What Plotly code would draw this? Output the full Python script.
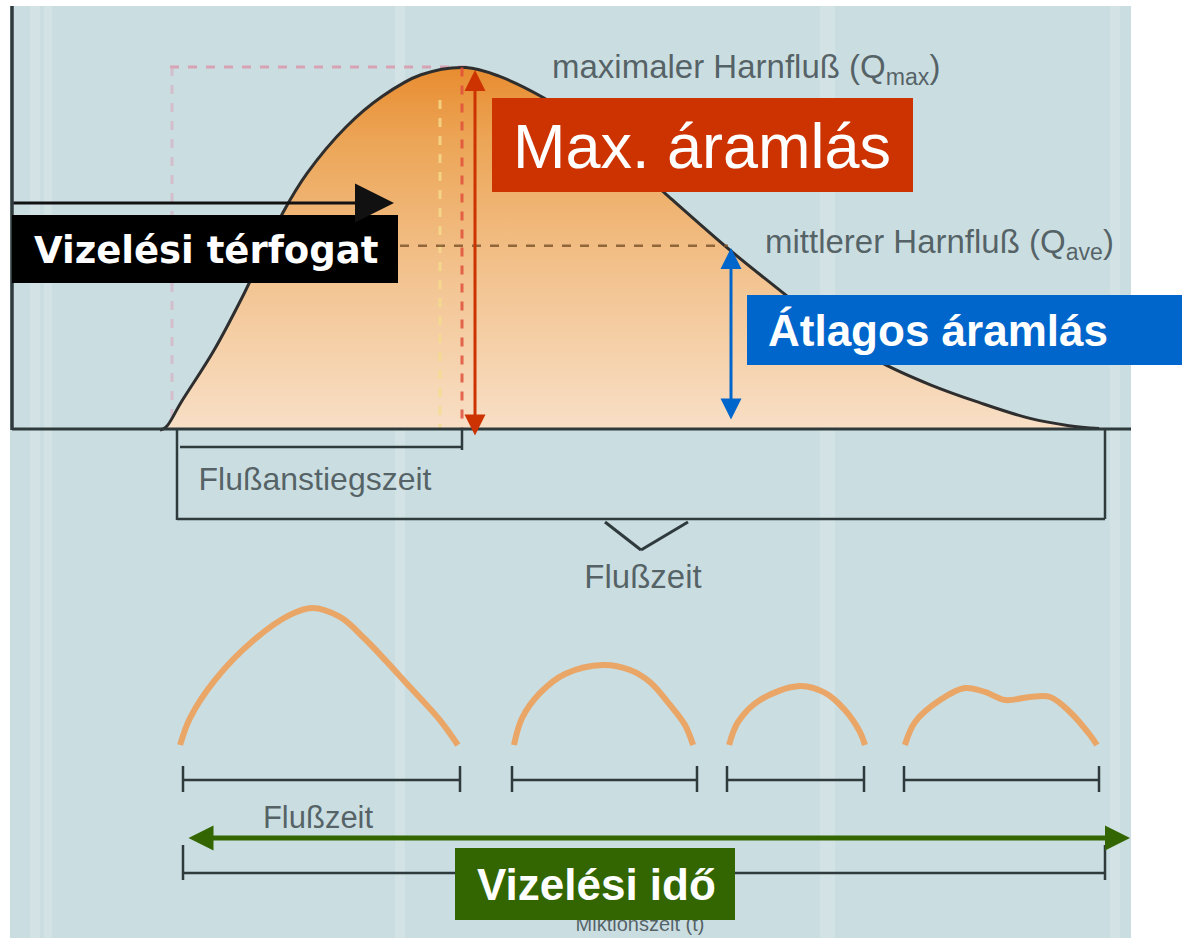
import plotly.graph_objects as go

# ---- data (time in s, flow in ml/s) ----
time_s = [0, 0.2, 0.7, 1.8, 2.8, 4.1, 4.9, 6.2, 7.4, 8.7, 10.2, 11.3, 12.8, 14.7,
          16.9, 19.0, 20.8, 22.3, 24.0, 25.7, 27.3, 29.0, 30.3, 31.3]
flow_ml_s = [0, 0.2, 1.9, 5.5, 9.4, 15.0, 17.7, 20.9, 23.0, 24.5, 25.0, 24.4, 22.9,
             20.3, 16.2, 12.4, 9.4, 6.9, 4.7, 3.1, 1.9, 0.8, 0.3, 0.1]
q_max = 25.0
q_ave = 12.7

# intermittent flow example (separate bursts)
burst_time = [
    [0.67, 1.0, 1.83, 3.13, 4.33, 5.07, 6.0, 6.8, 8.33, 9.33, 9.93],
    [11.8, 12.07, 12.67, 13.5, 14.77, 15.67, 16.33, 17.0, 17.5, 17.77],
    [18.97, 19.27, 20.0, 21.33, 22.17, 22.83, 23.33, 23.5],
    [24.83, 25.17, 26.0, 26.83, 27.5, 28.17, 29.0, 29.67, 30.33, 31.0, 31.23],
]
burst_flow = [
    [0, 1.86, 4.48, 7.24, 8.97, 9.45, 8.83, 7.38, 4.0, 1.72, 0],
    [0, 1.86, 3.59, 4.9, 5.52, 5.17, 4.34, 2.76, 1.38, 0],
    [0, 1.59, 3.1, 4.07, 3.59, 2.41, 0.9, 0],
    [0, 1.59, 3.1, 3.93, 3.66, 3.1, 3.31, 3.31, 2.28, 0.69, 0],
]

labels = {
    "qmax": "maximaler Harnfluß (Q<sub>max</sub>)",
    "qave": "mittlerer Harnfluß (Q<sub>ave</sub>)",
    "rise": "Flußanstiegszeit",
    "flow": "Flußzeit",
    "flow2": "Flußzeit",
    "mict": "Miktionszeit (t)",
    "max_lbl": "Max. áramlás",
    "vol_lbl": "Vizelési térfogat",
    "ave_lbl": "Átlagos áramlás",
    "time_lbl": "Vizelési idő",
}

# ---- layout helpers: page pixel -> axis units ----
W, H = 1182, 938
def X(px):
    return (px - 160) / 30.0
def Y(py):
    return (430 - py) / 14.5

BURST_BASE = Y(745)

fig = go.Figure()

shapes = []
def rect(x0, y0, x1, y1, fill, layer="below", line=None):
    shapes.append(dict(type="rect", xref="x", yref="y", x0=X(x0), x1=X(x1), y0=Y(y0), y1=Y(y1),
                       fillcolor=fill, line=dict(width=0) if line is None else line, layer=layer))
def seg(x0, y0, x1, y1, color="#2f3a3d", width=2.5, dash="solid", layer="above"):
    shapes.append(dict(type="line", xref="x", yref="y", x0=X(x0), x1=X(x1), y0=Y(y0), y1=Y(y1),
                       line=dict(color=color, width=width, dash=dash), layer=layer))

rect(10, 6, 1131, 938, "#cadde1")
for bx0, bx1 in [(30, 40), (44, 52), (395, 405), (820, 835), (1110, 1120)]:
    rect(bx0, 6, bx1, 938, "rgba(255,255,255,0.15)")

# guide dashed lines (below traces)
seg(170, 67, 470, 67, color="#d7a3b4", width=3, dash="dash", layer="below")
seg(172, 67, 172, 430, color="rgba(215,170,190,0.6)", width=3, dash="dash", layer="below")

# main flow curve with gradient fill
fig.add_trace(go.Scatter(
    x=time_s, y=flow_ml_s, mode="lines", line=dict(color="#2e2e2e", width=3, shape="spline"),
    fill="tozeroy",
    fillgradient=dict(type="vertical",
                      colorscale=[[0, "#f8dfc6"], [0.4, "#f3c593"], [0.8, "#eca556"], [1, "#e88c30"]]),
    hoverinfo="skip", showlegend=False))

fig.add_trace(go.Scatter(x=[X(440), X(440)], y=[Y(100), 0], mode="lines",
                         line=dict(color="rgba(245,220,140,0.8)", width=3, dash="dash"),
                         hoverinfo="skip", showlegend=False))
fig.add_trace(go.Scatter(x=[X(462), X(462)], y=[q_max, 0], mode="lines",
                         line=dict(color="rgba(225,80,60,0.85)", width=3, dash="dash"),
                         hoverinfo="skip", showlegend=False))
fig.add_trace(go.Scatter(x=[X(400), X(728)], y=[q_ave, q_ave], mode="lines",
                         line=dict(color="rgba(120,80,40,0.8)", width=2.5, dash="dash"),
                         hoverinfo="skip", showlegend=False))

# intermittent bursts
for bt, bf in zip(burst_time, burst_flow):
    fig.add_trace(go.Scatter(x=bt, y=[v + BURST_BASE for v in bf], mode="lines",
                             line=dict(color="rgba(236,160,90,0.9)", width=6, shape="spline"),
                             hoverinfo="skip", showlegend=False))

# faded original labels (trace text so that boxes can cover them)
txt_color = "rgba(40,50,54,0.72)"
def ttext(px, py, s, size, pos="middle center"):
    fig.add_trace(go.Scatter(x=[X(px)], y=[Y(py)], mode="text", text=[s], textposition=pos,
                             textfont=dict(family="Liberation Sans", size=size, color=txt_color),
                             hoverinfo="skip", showlegend=False))
ttext(552, 70, labels["qmax"], 33, "middle right")
ttext(765, 245, labels["qave"], 33, "middle right")
ttext(315, 482, labels["rise"], 32)
ttext(643, 580, labels["flow"], 33)
ttext(318, 820, labels["flow2"], 31)
ttext(640, 926, labels["mict"], 20)

# axis lines and brackets
seg(12, 6, 12, 430, width=3.5)
seg(12, 429, 1131, 429, width=3)
seg(177, 429, 177, 520)
seg(180, 447, 462, 447)
seg(462, 429, 462, 450)
seg(177, 519, 1105, 519)
seg(1105, 429, 1105, 519)
seg(605, 522, 641, 550, width=3)
seg(641, 550, 688, 522, width=3)
for bx0, bx1 in [(183, 460), (512, 697), (727, 864), (904, 1099)]:
    seg(bx0, 780, bx1, 780)
    seg(bx0, 766, bx0, 792)
    seg(bx1, 766, bx1, 792)
seg(183, 873, 1105, 873)
seg(183, 845, 183, 880)
seg(1105, 845, 1105, 880)

# white page margin on the right / top
rect(1131, 0, W, H, "white", layer="above")
rect(0, 0, W, 6, "white", layer="above")

# label boxes
rect(492, 98, 913, 192, "#CC3300", layer="above")
rect(12, 215, 398, 283, "#000000", layer="above")
rect(747, 295, 1182, 365, "#0066CC", layer="above")
rect(455, 848, 735, 920, "#336600", layer="above")

annotations = []
def arrow(x0, y0, x1, y1, color, width, size, side="end+start"):
    annotations.append(dict(x=X(x1), y=Y(y1), ax=X(x0), ay=Y(y0), xref="x", yref="y",
                            axref="x", ayref="y", text="", showarrow=True, arrowhead=2,
                            arrowside=side, arrowwidth=width, arrowsize=size, arrowcolor=color))
arrow(475, 437, 475, 70, "#CC3300", 3, 1.4)
arrow(731, 421, 731, 248, "#0066CC", 3, 1.4)
arrow(187, 838, 1130, 838, "#336600", 5, 1.0)
arrow(12, 203, 394, 203, "#111111", 3, 2.6, side="end")

def label(px, py, s, family, size, anchor="center"):
    annotations.append(dict(x=X(px), y=Y(py), xref="x", yref="y", text=s, showarrow=False,
                            xanchor=anchor, yanchor="middle",
                            font=dict(family=family, size=size, color="white")))
label(702, 146, labels["max_lbl"], "Liberation Sans", 63)
label(206, 250, "<b>" + labels["vol_lbl"] + "</b>", "DejaVu Sans", 37)
label(766, 330, "<b>" + labels["ave_lbl"] + "</b>", "Liberation Sans", 44, anchor="left")
label(596, 884, "<b>" + labels["time_lbl"] + "</b>", "Liberation Sans", 44)

fig.update_layout(
    width=W, height=H, autosize=False,
    margin=dict(l=0, r=0, t=0, b=0, pad=0),
    paper_bgcolor="white", plot_bgcolor="white",
    xaxis=dict(range=[X(0), X(W)], visible=False, fixedrange=True),
    yaxis=dict(range=[Y(H), Y(0)], visible=False, fixedrange=True),
    shapes=shapes, annotations=annotations, showlegend=False,
)
fig.write_html("out.html", config={"displayModeBar": False},
               post_script="document.body.style.margin='0';document.body.style.overflow='hidden';")
